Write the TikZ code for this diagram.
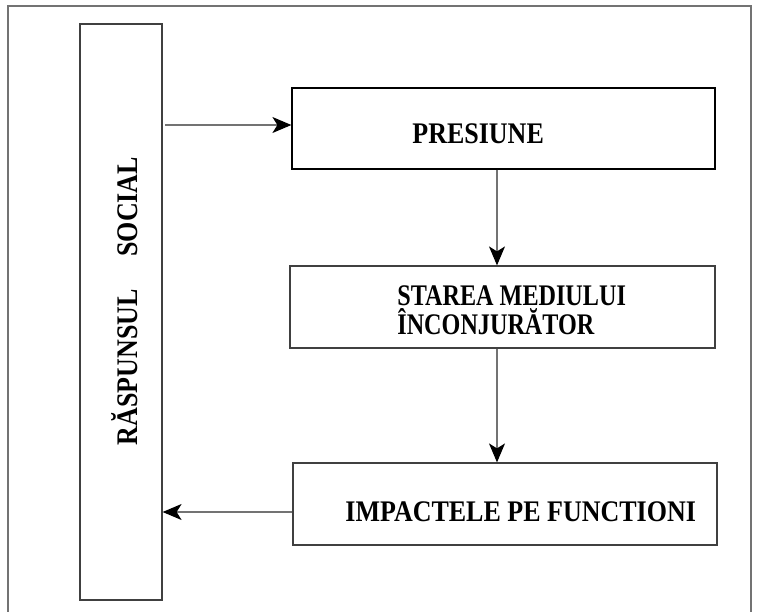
\documentclass[tikz,border=0pt]{standalone}
\usepackage{fontspec}
\setmainfont{Liberation Serif}
\usepackage{tikz}
\usetikzlibrary{arrows.meta}

\begin{document}
\begin{tikzpicture}[x=0.5pt,y=-0.5pt,
    box/.style={draw=black!75, line width=0.6pt, inner sep=0pt},
    lbl/.style={inner sep=0pt, font=\bfseries\fontsize{13}{12.5}\selectfont},
    arr/.style={draw=black!55, line width=0.6pt, -{Stealth[length=9.5pt,width=8pt,inset=2.5pt,black]}}]
    \useasboundingbox (0,0) rectangle (757,612);

    % Outer frame (open at the bottom)
    \draw[black!55, line width=1pt] (8,612) -- (8,6) -- (751,6) -- (751,612);

    % Boxes
    \node[box, minimum width=41pt, minimum height=288pt] (raspuns) at (121,312) {};
    \node[box, draw=black, minimum width=211.5pt, minimum height=40.5pt] (presiune) at (503.5,128.5) {};
    \node[box, minimum width=212.5pt, minimum height=41pt] (starea) at (502.5,307) {};
    \node[box, minimum width=212pt, minimum height=41pt] (impact) at (505,504) {};

    % Texts
    \node[lbl, rotate=90, yscale=1.15, anchor=base] (traspuns) at (137,301) {RĂSPUNSUL\hspace{1.25em}SOCIAL};
    \node[lbl, yscale=1.15, anchor=base west] (tpresiune) at (412,143) {PRESIUNE};
    \node[lbl, xscale=0.93, yscale=1.15, anchor=base west, align=left] (tstarea) at (397,334) {STAREA MEDIULUI\\ÎNCONJURĂTOR};
    \node[lbl, yscale=1.15, anchor=base west] (timpact) at (345,521) {IMPACTELE PE FUNCTIONI};

    % Connectors
    \coordinate (start) at (165,125);
    \coordinate (col) at (497,0);
    \coordinate (back) at (0,512);
    \draw[arr] (start) -- (start -| presiune.west);
    \draw[arr] (presiune.south -| col) -- (starea.north -| col);
    \draw[arr] (starea.south -| col) -- (impact.north -| col);
    \draw[arr] (impact.west |- back) -- (raspuns.east |- back);

\end{tikzpicture}
\end{document}
